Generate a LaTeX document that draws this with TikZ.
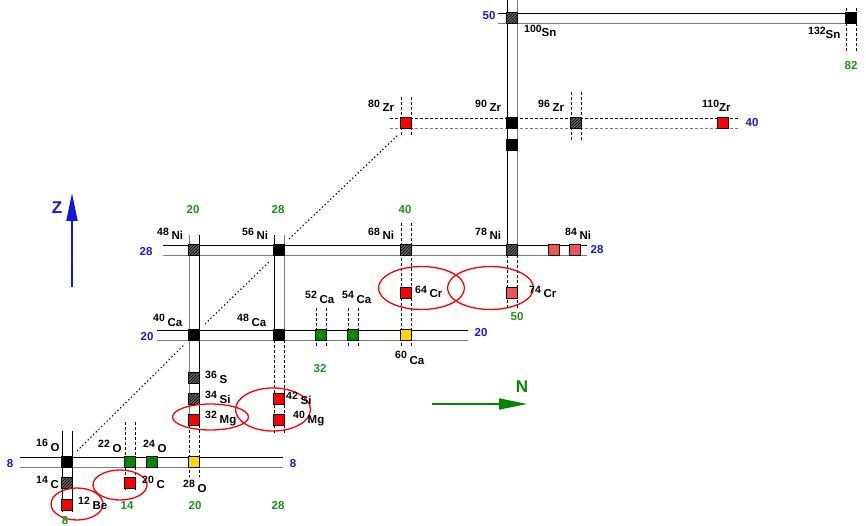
\documentclass[tikz,border=0pt]{standalone}
\usepackage{fontspec}
\setmainfont{Liberation Sans}
\usetikzlibrary{arrows.meta,patterns,shapes.geometric}

\definecolor{magicblue}{RGB}{22,22,222}
\definecolor{magicgreen}{RGB}{22,150,22}
\definecolor{sqred}{RGB}{255,0,0}
\definecolor{sqpink}{RGB}{240,84,84}
\definecolor{sqgreen}{RGB}{0,136,0}
\definecolor{sqyellow}{RGB}{255,214,0}
\definecolor{bandgray}{RGB}{125,125,125}

% isotope label: mass number raised, then element symbol
\newcommand\isolabel[2]{\raisebox{4.5pt}{\fontsize{10.5}{10.5}\selectfont #1}\hspace{2.8pt}{\fontsize{11.5}{11.5}\selectfont #2}}
\newcommand\isotight[2]{\raisebox{4pt}{\fontsize{10.5}{10.5}\selectfont #1}{\fontsize{11.5}{11.5}\selectfont #2}}
% a pair of vertical lines around column x=#1 from y=#2 to y=#3
\newcommand\vpair[5]{\draw[#4] ({#1-5},#2) -- ({#1-5},#3); \draw[#5] ({#1+5},#2) -- ({#1+5},#3);}
% a pair of horizontal lines around row y=#1 from x=#2 to x=#3
\newcommand\hpair[5]{\draw[#4] (#2,{#1-5}) -- (#3,{#1-5}); \draw[#5] (#2,{#1+5}) -- (#3,{#1+5});}

\begin{document}
\begin{tikzpicture}[x=1pt,y=-1pt,
  bk/.style={line width=0.9pt,black},
  gr/.style={line width=0.9pt,bandgray},
  dbk/.style={line width=0.8pt,black,dash pattern=on 3pt off 2pt},
  dgr/.style={line width=0.8pt,bandgray,dash pattern=on 3pt off 2pt},
  drip/.style={line width=1pt,black,dash pattern=on 1.4pt off 2.4pt},
  sq/.style={draw=black,line width=0.6pt,minimum size=10.8pt,inner sep=0pt,outer sep=0pt},
  sqblack/.style={sq,fill=black},
  sqhatch/.style={sq,preaction={fill=black!60},pattern=north east lines,pattern color=black},
  sqr/.style={sq,fill=sqred},
  sqp/.style={sq,fill=sqpink},
  sqg/.style={sq,fill=sqgreen},
  sqy/.style={sq,fill=sqyellow},
  ring/.style={ellipse,draw=red,line width=1.3pt,inner sep=0pt},
  iso/.style={anchor=base west,inner sep=0pt,font=\bfseries},
  zmagic/.style={inner sep=0pt,text=magicblue,font=\bfseries\fontsize{11.5}{12}\selectfont},
  nmagic/.style={inner sep=0pt,text=magicgreen,font=\bfseries\fontsize{11.5}{12}\selectfont},
  axisarrow/.style={line width=1.8pt,-{Triangle[length=28pt,width=11pt]}}
]
\useasboundingbox (0,0) rectangle (866,526);

% ---- proton shells (horizontal bands) ----
\hpair{462}{20}{283}{bk}{gr}      % Z = 8
\hpair{335}{157}{468}{bk}{gr}     % Z = 20
\hpair{250}{163}{587}{bk}{gr}     % Z = 28
\hpair{123}{390}{740}{dbk}{dgr}   % Z = 40
\hpair{18}{498}{857}{bk}{gr}      % Z = 50

% ---- neutron shells (vertical bands) ----
\vpair{67}{431}{512}{bk}{bk}      % N = 8
\vpair{130}{422}{490}{dbk}{dbk}   % N = 14
\vpair{194}{235}{425}{gr}{bk}     % N = 20
\vpair{194}{425}{477}{dbk}{dbk}
\vpair{279}{235}{340}{bk}{gr}     % N = 28
\vpair{279}{340}{433}{dbk}{dbk}
\vpair{321}{308}{348}{dbk}{dbk}   % N = 32
\vpair{353}{308}{348}{dbk}{dbk}   % N = 34
\vpair{406}{223}{347}{dbk}{dbk}   % N = 40
\vpair{406}{97}{137}{dbk}{dbk}
\vpair{512}{0}{255}{bk}{gr}       % N = 50
\vpair{512}{255}{308}{dbk}{dbk}
\vpair{576}{92}{142}{dbk}{dbk}    % N = 56
\vpair{851}{8}{53}{dbk}{dbk}      % N = 82

% ---- drip-line guide ----
\coordinate (d1a) at (77,451);  \coordinate (d1b) at (185,344);
\coordinate (d2a) at (205,324); \coordinate (d2b) at (270,261);
\coordinate (d3a) at (289,239); \coordinate (d3b) at (398,135);
\draw[drip] (d1a) -- (d1b);
\draw[drip] (d2a) -- (d2b);
\draw[drip] (d3a) -- (d3b);

% ---- nuclei ----
\node[sqblack] (o16)  at (67,462) {};
\node[sqhatch] (c14)  at (67,483) {};
\node[sqr]     (be12) at (67,504.5) {};
\node[sqg]     (o22)  at (130,462) {};
\node[sqg]     (o24)  at (152,462) {};
\node[sqy]     (o28)  at (194,462) {};
\node[sqr]     (c20)  at (130,483) {};
\node[sqblack] (ca40) at (194,335) {};
\node[sqhatch] (s36)  at (194,378) {};
\node[sqhatch] (si34) at (194,398.5) {};
\node[sqr]     (mg32) at (194,419.5) {};
\node[sqr]     (si42) at (279,398.5) {};
\node[sqr]     (mg40) at (279,419.5) {};
\node[sqblack] (ca48) at (279,335) {};
\node[sqg]     (ca52) at (321,335) {};
\node[sqg]     (ca54) at (353,335) {};
\node[sqy]     (ca60) at (406,335) {};
\node[sqhatch] (ni48) at (194,250) {};
\node[sqblack] (ni56) at (279,250) {};
\node[sqhatch] (ni68) at (406,250) {};
\node[sqhatch] (ni78) at (512,250) {};
\node[sqp]     (ni82) at (554,250) {};
\node[sqp]     (ni84) at (575,250) {};
\node[sqr]     (cr64) at (406,293) {};
\node[sqp]     (cr74) at (512,293) {};
\node[sqr]     (zr80) at (406,123) {};
\node[sqblack] (zr90) at (512,123) {};
\node[sqblack] (zr92) at (512,145) {};
\node[sqhatch] (zr96) at (576,123) {};
\node[sqr]     (zr110) at (723,123) {};
\node[sqhatch] (sn100) at (512,18) {};
\node[sqblack] (sn132) at (851,18) {};

% ---- islands of inversion ----
\node[ring,minimum width=52pt,minimum height=32pt] (r1) at (77,504) {};
\node[ring,minimum width=54pt,minimum height=30pt] (r2) at (120,485) {};
\node[ring,minimum width=76pt,minimum height=26pt] (r3) at (210.5,417) {};
\node[ring,minimum width=75pt,minimum height=43pt] (r4) at (273,409.5) {};
\node[ring,minimum width=86pt,minimum height=43pt] (r5) at (421.5,288) {};
\node[ring,minimum width=86pt,minimum height=43pt] (r6) at (490.5,288) {};

% ---- isotope labels ----
\node[iso] (l16o)  at (36,451)  {\isolabel{16}{O}};
\node[iso] (l14c)  at (36,488)  {\isolabel{14}{C}};
\node[iso] (l12be) at (78,509)  {\isolabel{12}{Be}};
\node[iso] (l22o)  at (98,452)  {\isolabel{22}{O}};
\node[iso] (l24o)  at (143,452) {\isolabel{24}{O}};
\node[iso] (l20c)  at (142,488) {\isolabel{20}{C}};
\node[iso] (l28o)  at (183,492) {\isolabel{28}{O}};
\node[iso] (l36s)  at (205,383) {\isolabel{36}{S}};
\node[iso] (l34si) at (205,403) {\isolabel{34}{Si}};
\node[iso] (l32mg) at (205,423) {\isolabel{32}{Mg}};
\node[iso] (l42si) at (286,404) {\isolabel{42}{Si}};
\node[iso] (l40mg) at (293,423) {\isolabel{40}{Mg}};
\node[iso] (l40ca) at (153,326) {\isolabel{40}{Ca}};
\node[iso] (l48ca) at (237,326) {\isolabel{48}{Ca}};
\node[iso] (l52ca) at (305,303) {\isolabel{52}{Ca}};
\node[iso] (l54ca) at (342,303) {\isolabel{54}{Ca}};
\node[iso] (l60ca) at (395,364) {\raisebox{5.5pt}{\fontsize{10.5}{10.5}\selectfont 60}\hspace{2.8pt}{\fontsize{11.5}{11.5}\selectfont Ca}};
\node[iso] (l64cr) at (415,298) {\isolabel{64}{Cr}};
\node[iso] (l74cr) at (529,298) {\isolabel{74}{Cr}};
\node[iso] (l48ni) at (157,240) {\isolabel{48}{Ni}};
\node[iso] (l56ni) at (242,240) {\isolabel{56}{Ni}};
\node[iso] (l68ni) at (368,240) {\isolabel{68}{Ni}};
\node[iso] (l78ni) at (475,240) {\isolabel{78}{Ni}};
\node[iso] (l84ni) at (565,240) {\isolabel{84}{Ni}};
\node[iso] (l80zr) at (368,112) {\isolabel{80}{Zr}};
\node[iso] (l90zr) at (475,112) {\isolabel{90}{Zr}};
\node[iso] (l96zr) at (538,112) {\isolabel{96}{Zr}};
\node[iso] (l110zr) at (702,112) {\isotight{110}{Zr}};
\node[iso] (l100sn) at (524,37) {\isotight{100}{Sn}};
\node[iso] (l132sn) at (808,39) {\isotight{132}{Sn}};

% ---- magic numbers: protons ----
\node[zmagic] (z8l)  at (10,464)  {8};
\node[zmagic] (z8r)  at (293,464) {8};
\node[zmagic] (z20l) at (147,337) {20};
\node[zmagic] (z20r) at (481,333) {20};
\node[zmagic] (z28l) at (146,252) {28};
\node[zmagic] (z28r) at (597,250) {28};
\node[zmagic] (z40)  at (752,123) {40};
\node[zmagic] (z50)  at (489,16)  {50};

% ---- magic numbers: neutrons ----
\node[nmagic] (n8)   at (65,521)  {8};
\node[nmagic] (n14)  at (127,506) {14};
\node[nmagic] (n20b) at (195,506) {20};
\node[nmagic] (n28b) at (278,506) {28};
\node[nmagic] (n20t) at (193,210) {20};
\node[nmagic] (n28t) at (278,210) {28};
\node[nmagic] (n40t) at (405,210) {40};
\node[nmagic] (n32)  at (320,369) {32};
\node[nmagic] (n50)  at (517,317) {50};
\node[nmagic] (n82)  at (851,66)  {82};

% ---- axes ----
\coordinate (zfoot) at (72,287);
\coordinate (ztip)  at (72,193);
\draw[axisarrow,magicblue] (zfoot) -- (ztip);
\node[inner sep=0pt,text=magicblue,font=\bfseries\fontsize{17}{17}\selectfont] (zlab) at (57,208) {Z};
\coordinate (nfoot) at (432,404);
\coordinate (ntip)  at (527,404);
\draw[axisarrow,sqgreen] (nfoot) -- (ntip);
\node[inner sep=0pt,text=sqgreen,font=\bfseries\fontsize{17}{17}\selectfont] (nlab) at (522,387) {N};
\end{tikzpicture}
\end{document}
